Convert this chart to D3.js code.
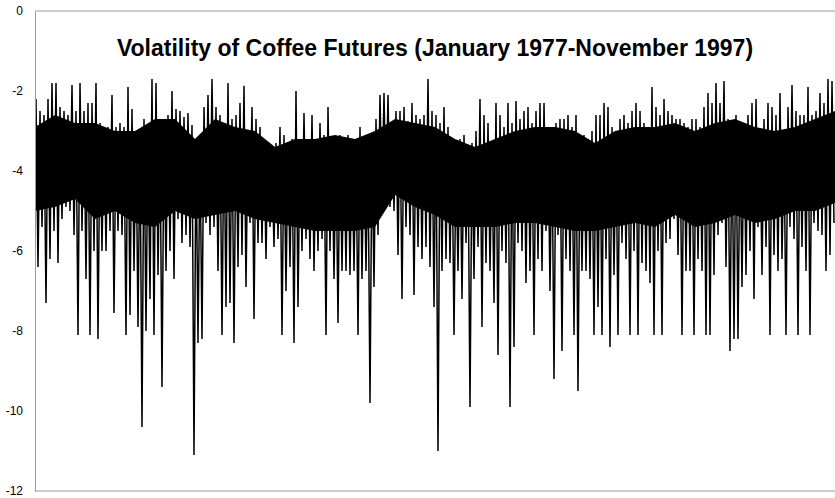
<!DOCTYPE html>
<html>
<head>
<meta charset="UTF-8">
<title>Volatility of Coffee Futures</title>
<script src="https://d3js.org/d3.v7.min.js"></script>
<style>
  body { margin: 0; background: #fff; }
  svg { display: block; font-family: Arial, "Liberation Sans", sans-serif; }
</style>
</head>
<body>
<div id="chart"></div>
<script>
// chart title and y ticks
var title = "Volatility of Coffee Futures (January 1977-November 1997)";
var yTicks = [0, -2, -4, -6, -8, -10, -12];

// upper extreme of each period (200 periods, Jan 1977 - Nov 1997)
var hiVals = [
  -2.2, -2.5, -2.6, -2.2, -1.8, -1.8, -2.4, -2.5, -2.6, -1.85,
  -2.5, -1.8, -2.5, -2.3, -2.3, -1.8, -2.8, -2.9, -2.9, -2.1,
  -2.9, -2.8, -2.9, -1.9, -2.45, -3.0, -3.1, -2.7, -3.0, -1.7,
  -1.8, -3.0, -2.9, -2.6, -2.0, -2.45, -2.5, -2.65, -2.55, -2.85,
  -3.2, -3.45, -2.4, -2.1, -1.7, -2.4, -2.6, -2.8, -1.8, -2.7,
  -2.6, -2.3, -1.87, -3.0, -2.4, -2.7, -2.9, -3.2, -3.3, -3.9,
  -3.3, -2.9, -3.1, -3.3, -3.2, -2.0, -3.3, -2.55, -3.2, -2.6,
  -3.5, -2.8, -3.1, -2.4, -3.2, -3.4, -3.1, -3.3, -3.1, -3.3,
  -3.2, -2.9, -3.2, -3.6, -3.2, -2.7, -2.1, -2.05, -2.1, -2.8,
  -2.5, -2.5, -2.4, -2.75, -2.3, -2.6, -2.7, -2.6, -1.7, -2.5,
  -2.6, -2.8, -2.4, -2.9, -3.2, -3.6, -3.2, -3.1, -3.4, -3.3,
  -3.0, -2.2, -2.6, -2.8, -3.5, -2.3, -2.6, -2.9, -2.3, -2.8,
  -2.25, -2.7, -2.5, -2.4, -2.8, -2.5, -2.3, -2.3, -2.9, -3.1,
  -2.8, -2.7, -2.7, -2.6, -2.9, -2.6, -3.1, -3.1, -3.2, -3.0,
  -2.6, -2.6, -2.3, -2.4, -2.9, -3.1, -2.7, -2.6, -2.8, -2.5,
  -2.3, -2.5, -2.8, -2.9, -1.9, -2.4, -2.6, -2.2, -2.5, -2.6,
  -2.7, -2.7, -2.8, -2.9, -2.7, -2.7, -2.9, -2.4, -2.05, -2.3,
  -1.8, -2.3, -1.75, -2.7, -2.8, -2.6, -3.1, -2.8, -2.6, -2.3,
  -2.2, -3.0, -2.7, -2.3, -2.4, -2.6, -2.05, -3.2, -2.4, -1.85,
  -2.5, -2.6, -2.6, -1.9, -2.6, -2.5, -2.05, -2.3, -1.7, -1.75
];

// lower extreme of each period
var loVals = [
  -6.4, -5.4, -7.3, -6.2, -5.5, -6.3, -5.2, -4.9, -5.0, -5.6,
  -8.1, -5.5, -6.7, -8.1, -6.0, -8.2, -6.0, -6.0, -5.5, -7.55,
  -5.5, -5.6, -8.1, -7.6, -6.5, -7.9, -10.4, -8.0, -7.2, -8.1,
  -6.6, -9.4, -6.5, -6.0, -6.7, -5.2, -5.8, -5.6, -5.9, -11.1,
  -8.3, -8.2, -5.3, -5.6, -5.4, -6.5, -8.1, -7.4, -7.3, -8.3,
  -6.4, -6.1, -6.9, -5.3, -7.7, -5.8, -5.8, -6.2, -5.4, -5.9,
  -5.7, -8.1, -7.0, -6.4, -8.3, -7.4, -6.0, -5.7, -6.2, -6.5,
  -6.0, -5.7, -8.1, -6.0, -6.7, -7.8, -6.5, -6.5, -6.6, -6.5,
  -8.1, -6.7, -6.5, -9.8, -6.9, -5.6, -4.7, -4.8, -4.9, -5.0,
  -6.1, -7.2, -5.4, -5.6, -7.1, -5.9, -6.2, -5.9, -6.4, -7.4,
  -11.0, -6.5, -6.2, -6.3, -8.1, -6.5, -7.2, -5.8, -9.9, -6.7,
  -5.9, -7.9, -6.3, -6.5, -7.3, -8.6, -6.0, -6.3, -9.9, -8.4,
  -5.8, -6.0, -6.8, -6.5, -8.1, -6.2, -6.5, -5.5, -7.0, -9.2,
  -5.6, -8.5, -6.2, -6.5, -8.1, -9.5, -6.5, -6.5, -6.7, -8.1,
  -7.4, -8.1, -6.2, -8.4, -6.6, -8.1, -5.8, -6.2, -8.1, -6.0,
  -8.1, -6.3, -6.5, -6.8, -8.1, -6.0, -8.1, -5.8, -5.7, -5.2,
  -6.1, -8.1, -6.5, -6.5, -8.1, -6.2, -6.5, -8.1, -8.1, -6.6,
  -5.6, -5.3, -6.4, -8.5, -8.2, -8.2, -6.9, -6.6, -6.0, -7.2,
  -5.4, -6.6, -5.9, -8.1, -6.1, -6.5, -6.2, -8.1, -5.4, -5.7,
  -8.1, -5.9, -6.5, -8.1, -5.3, -5.5, -5.6, -6.5, -6.1, -5.3
];

// dense core of the series, every 5th period
var coreTop = [
  -2.9, -2.6, -2.8, -2.8, -3.0, -3.0, -2.7, -2.7, -3.2, -2.7,
  -2.9, -3.0, -3.4, -3.2, -3.2, -3.1, -3.2, -3.0, -2.7, -2.8,
  -2.9, -3.2, -3.4, -3.2, -3.0, -2.9, -2.9, -3.0, -3.3, -3.0,
  -2.9, -2.9, -2.8, -3.0, -2.8, -2.7, -2.9, -3.0, -2.9, -2.7, -2.5
];
var coreBot = [
  -5.0, -4.9, -4.7, -5.2, -5.0, -5.3, -5.4, -5.0, -5.2, -5.1,
  -5.0, -5.2, -5.3, -5.4, -5.5, -5.5, -5.5, -5.4, -4.6, -4.9,
  -5.1, -5.4, -5.4, -5.4, -5.3, -5.3, -5.4, -5.5, -5.5, -5.4,
  -5.3, -5.4, -5.1, -5.4, -5.3, -5.1, -5.3, -5.2, -5.0, -5.0, -4.8
];

var width = 835, height = 498;
var margin = { left: 35, right: 0, top: 11, bottom: 7 };

var svg = d3.select("#chart").append("svg")
    .attr("width", width)
    .attr("height", height);

var n = hiVals.length;
var x = d3.scaleLinear().domain([0, n]).range([margin.left, width - margin.right]);
var y = d3.scaleLinear().domain([0, -12]).range([margin.top, height - margin.bottom]);

// frame
svg.append("line")
    .attr("x1", margin.left).attr("x2", width)
    .attr("y1", y(0)).attr("y2", y(0))
    .attr("stroke", "#999").attr("stroke-width", 1);
svg.append("line")
    .attr("x1", margin.left).attr("x2", width)
    .attr("y1", y(-12)).attr("y2", y(-12))
    .attr("stroke", "#999").attr("stroke-width", 1);

// dense core band
var coreData = coreTop.map(function (d, i) { return { t: i * 5, top: d, bot: coreBot[i] }; });
svg.append("path")
    .datum(coreData)
    .attr("fill", "#000")
    .attr("d", d3.area()
        .x(function (d) { return x(d.t); })
        .y0(function (d) { return y(d.bot); })
        .y1(function (d) { return y(d.top); }));

// the series itself: high then low within each period
var series = [];
hiVals.forEach(function (h, i) {
    series.push({ t: i + 0.25, v: h });
    series.push({ t: i + 0.75, v: loVals[i] });
});

svg.append("path")
    .datum(series)
    .attr("fill", "none")
    .attr("stroke", "#000")
    .attr("stroke-width", 1.5)
    .attr("stroke-linejoin", "bevel")
    .attr("d", d3.line()
        .x(function (d) { return x(d.t); })
        .y(function (d) { return y(d.v); }));

// y axis
var yAxis = svg.append("g")
    .attr("transform", "translate(" + margin.left + ",0)")
    .call(d3.axisLeft(y).tickValues(yTicks).tickSize(0).tickPadding(12)
        .tickFormat(function (d) { return String(d); }));
yAxis.select(".domain").attr("stroke", "#999");
yAxis.selectAll("text")
    .attr("font-size", 12)
    .attr("font-family", "Arial, 'Liberation Sans', sans-serif")
    .attr("fill", "#000");

// title
svg.append("text")
    .attr("x", 435)
    .attr("y", 56)
    .attr("text-anchor", "middle")
    .attr("font-size", 23)
    .attr("font-weight", "bold")
    .attr("fill", "#000")
    .text(title);
</script>
</body>
</html>
